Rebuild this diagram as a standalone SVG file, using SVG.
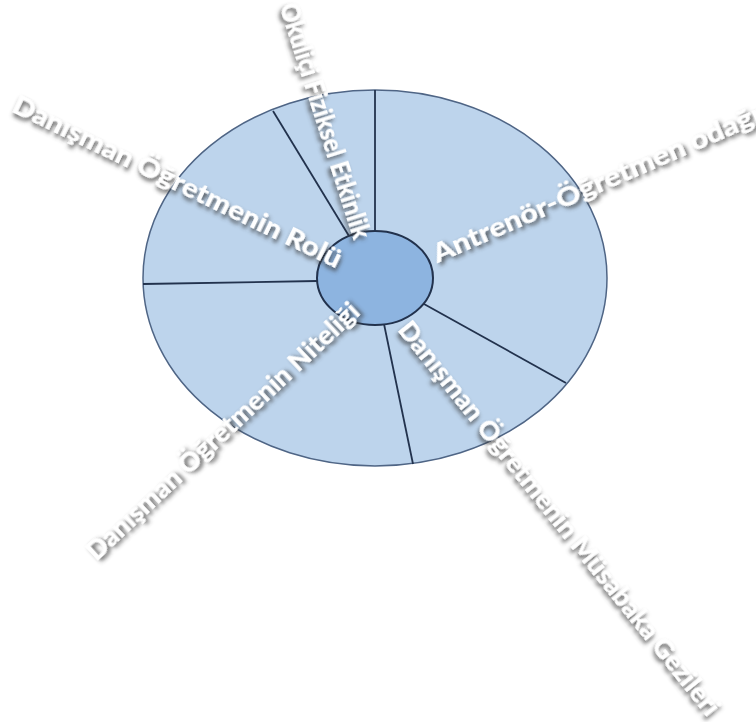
<svg xmlns="http://www.w3.org/2000/svg" width="756" height="722" viewBox="0 0 756 722">
<defs>
<filter id="sh" x="-10%" y="-60%" width="120%" height="220%">
<feGaussianBlur in="SourceAlpha" stdDeviation="2.2" result="b"/>
<feOffset in="b" dx="1.5" dy="3" result="o"/>
<feFlood flood-color="#3a3a3a" flood-opacity="0.85"/>
<feComposite in2="o" operator="in" result="s"/>
<feMerge><feMergeNode in="s"/><feMergeNode in="SourceGraphic"/></feMerge>
</filter>
</defs>
<style>
.outer{fill:#bdd4ec;stroke:#4f6585;stroke-width:1.5}
.inner{fill:#8db4e0;stroke:#22324d;stroke-width:2}
.div{stroke:#22324d;stroke-width:1.8;fill:none}
.lbl{font-family:Lato,"Open Sans","Liberation Sans",sans-serif;font-weight:900;font-size:26px;fill:#ffffff;filter:url(#sh)}
</style>
<rect width="756" height="722" fill="#ffffff"/>
<g id="ring">
<ellipse class="outer" cx="375" cy="278" rx="232" ry="188"/>
</g>
<g id="dividers">
<line class="div" x1="375" y1="90" x2="375" y2="232"/>
<line class="div" x1="273" y1="111" x2="349" y2="236"/>
<line class="div" x1="143" y1="284" x2="317" y2="281"/>
<line class="div" x1="384" y1="324" x2="413" y2="464"/>
<line class="div" x1="424" y1="304" x2="566" y2="383"/>
</g>
<g id="center">
<ellipse class="inner" cx="375" cy="278" rx="58" ry="47"/>
</g>
<g id="label-okulici">
<text class="lbl" transform="translate(287,4) rotate(72.4)" x="0" y="8" textLength="246" lengthAdjust="spacingAndGlyphs">Okuliçi Fiziksel Etkinlik</text>
</g>
<g id="label-rolu">
<text class="lbl" transform="translate(14,104) rotate(25.8)" x="0" y="8" textLength="362" lengthAdjust="spacingAndGlyphs">Danışman Öğretmenin Rolü</text>
</g>
<g id="label-antrenor">
<text class="lbl" transform="translate(434,256) rotate(-23.5)" x="0" y="8" textLength="355" lengthAdjust="spacingAndGlyphs">Antrenör-Öğretmen odağı</text>
</g>
<g id="label-musabaka">
<text class="lbl" transform="translate(403,325) rotate(51.3)" x="0" y="8" textLength="497" lengthAdjust="spacingAndGlyphs">Danışman Öğretmenin Müsabaka Gezileri</text>
</g>
<g id="label-nitelik">
<text class="lbl" transform="translate(91,556) rotate(-43.1)" x="0" y="8" textLength="363" lengthAdjust="spacingAndGlyphs">Danışman Öğretmenin Niteliği</text>
</g>
</svg>
